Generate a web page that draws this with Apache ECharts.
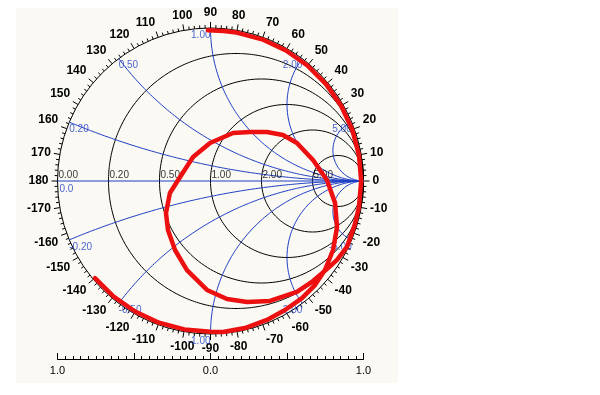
<!DOCTYPE html>
<html><head><meta charset="utf-8">
<script src="https://cdn.jsdelivr.net/npm/echarts@6/dist/echarts.min.js"></script>
<style>html,body{margin:0;padding:0;background:#fff}#c{width:600px;height:395px}</style>
</head><body><div id="c"></div>
<script>
// ---- chart values ----
const resistanceValues = [0.2, 0.5, 1, 2, 5];
const reactanceValues = [0.2, 0.5, 1, 2, 5, -0.2, -0.5, -1, -2, -5];
const resistanceLabelValues = [0, 0.2, 0.5, 1, 2, 5];
const angleTickStep = 10;
const bottomTickLabels = ['1.0', '0.0', '1.0'];
// reflection coefficient trace (real / imaginary parts)
const traceRe = [-0.017, 0.086, 0.171, 0.337, 0.493, 0.633, 0.755, 0.853, 0.926, 0.970, 0.985, 0.970,
  0.944, 0.892, 0.827, 0.768, 0.670, 0.565, 0.389, 0.239, 0.108, -0.023, -0.154, -0.232, -0.278, -0.291,
  -0.265, -0.199, -0.114, -0.003, 0.147, 0.258, 0.369, 0.474, 0.565, 0.670, 0.761, 0.814, 0.827, 0.801,
  0.748, 0.683, 0.598, 0.487, 0.369, 0.225, 0.082, 0.000, -0.171, -0.337, -0.493, -0.633, -0.755];
const traceIm = [0.985, 0.981, 0.970, 0.926, 0.853, 0.755, 0.633, 0.493, 0.337, 0.171, 0.000, -0.171,
  -0.281, -0.431, -0.516, -0.569, -0.654, -0.725, -0.784, -0.791, -0.771, -0.712, -0.582, -0.451, -0.320, -0.209,
  -0.078, 0.026, 0.157, 0.248, 0.314, 0.320, 0.320, 0.301, 0.248, 0.137, 0.007, -0.144, -0.301, -0.451,
  -0.582, -0.680, -0.765, -0.843, -0.908, -0.961, -0.987, -0.985, -0.970, -0.926, -0.853, -0.755, -0.635];

// ---- layout / style ----
const CX = 210.5, CY = 181, R = 153;
const BLUE = '#1f3fc4';
const FONT = "'Liberation Sans', Arial, sans-serif";

function gamma(r, x) {
  const d = (r + 1) * (r + 1) + x * x;
  return [((r - 1) * (r + 1) + x * x) / d, 2 * x / d];
}
function resistanceCircle(r) {
  const c = r / (1 + r), rho = 1 / (1 + r), pts = [];
  for (let i = 0; i <= 360; i++) {
    const t = i * Math.PI / 180;
    pts.push([c + rho * Math.cos(t), rho * Math.sin(t)]);
  }
  return pts;
}
function reactanceArc(x) {
  const pts = [];
  for (let i = 0; i < 300; i++) {
    const s = i / 300 * Math.PI / 2;
    pts.push(gamma(Math.tan(s), x));
  }
  pts.push([1, 0]);
  return pts;
}
const gridLine = (data, color) => ({
  type: 'line', xAxisIndex: 0, yAxisIndex: 0, data, symbol: 'none', silent: true,
  lineStyle: { color, width: 1 }, z: 2
});

const series = [];
resistanceValues.forEach(r => series.push(gridLine(resistanceCircle(r), '#000')));
reactanceValues.forEach(x => series.push(gridLine(reactanceArc(x), BLUE)));
series.push(gridLine([[-1, 0], [1, 0]], BLUE));

// labels
const labelData = [];
resistanceLabelValues.forEach(r => {
  labelData.push({ value: [(r - 1) / (r + 1), 0], label: { formatter: r.toFixed(2), align: 'left', verticalAlign: 'bottom', offset: [1, -1], color: '#000' } });
});
labelData.push({ value: [-1, 0], label: { formatter: '0.0', align: 'left', verticalAlign: 'top', offset: [2, 3], color: BLUE } });
reactanceValues.forEach(x => {
  const p = gamma(0, x);
  const txt = (x < 0 ? '-' : '') + Math.abs(x).toFixed(2);
  labelData.push({ value: p, label: { formatter: txt, align: Math.abs(x) < 1 ? 'left' : 'right', verticalAlign: 'top', offset: [0, 2], color: BLUE } });
});
series.push({
  type: 'scatter', xAxisIndex: 0, yAxisIndex: 0, data: labelData, symbolSize: 1,
  itemStyle: { color: 'transparent' }, silent: true, z: 3,
  label: { show: true, position: 'inside', fontSize: 10, fontFamily: FONT }
});

// trace
series.push({
  type: 'line', xAxisIndex: 0, yAxisIndex: 0, symbol: 'none', z: 5, silent: true,
  data: traceRe.map((v, i) => [v, traceIm[i]]),
  lineStyle: { color: '#ec1010', width: 4.5, join: 'round', cap: 'round' }
});
// polar dummy series to keep polar active
series.push({ type: 'scatter', coordinateSystem: 'polar', data: [], silent: true });

const chart = echarts.init(document.getElementById('c'), null, { renderer: 'canvas' });
chart.setOption({
  animation: false,
  backgroundColor: '#ffffff',
  graphic: [{ type: 'rect', shape: { x: 16, y: 8, width: 382, height: 375 }, style: { fill: '#faf9f3' }, z: -10, silent: true }],
  grid: [
    { left: CX - R, top: CY - R, width: 2 * R, height: 2 * R },
    { left: CX - R, top: 351, width: 2 * R, height: 8 }
  ],
  xAxis: [
    { gridIndex: 0, type: 'value', min: -1, max: 1, show: false },
    { gridIndex: 1, type: 'value', min: -1, max: 1, interval: 0.5, position: 'bottom',
      axisLine: { show: true, onZero: false, lineStyle: { color: '#000', width: 1 } },
      axisTick: { show: true, inside: true, length: 6, lineStyle: { color: '#000' } },
      minorTick: { show: true, splitNumber: 10, length: 3, lineStyle: { color: '#000' } },
      splitLine: { show: false },
      axisLabel: { show: true, margin: 6, fontSize: 11, color: '#000', fontFamily: FONT,
        formatter: v => { const i = Math.round((v + 1)); return (Math.abs(v - Math.round(v)) < 1e-6) ? bottomTickLabels[i] : ''; } } }
  ],
  yAxis: [
    { gridIndex: 0, type: 'value', min: -1, max: 1, show: false },
    { gridIndex: 1, type: 'value', min: 0, max: 1, show: false }
  ],
  polar: { center: [CX, CY], radius: R },
  angleAxis: {
    type: 'value', min: 0, max: 360, interval: angleTickStep, startAngle: 0, clockwise: false,
    axisLine: { show: true, lineStyle: { color: '#000', width: 1 } },
    axisTick: { show: true, length: 6, lineStyle: { color: '#000' } },
    minorTick: { show: true, splitNumber: 5, length: 3, lineStyle: { color: '#000' } },
    splitLine: { show: false }, minorSplitLine: { show: false },
    axisLabel: { margin: 9, fontSize: 12, fontWeight: 'bold', color: '#000', fontFamily: FONT,
      formatter: v => String(v > 180 ? v - 360 : (v === 360 ? 0 : v)) }
  },
  radiusAxis: { type: 'value', min: 0, max: 1, show: false, axisLine: { show: false }, splitLine: { show: false } },
  series
});
</script></body></html>
